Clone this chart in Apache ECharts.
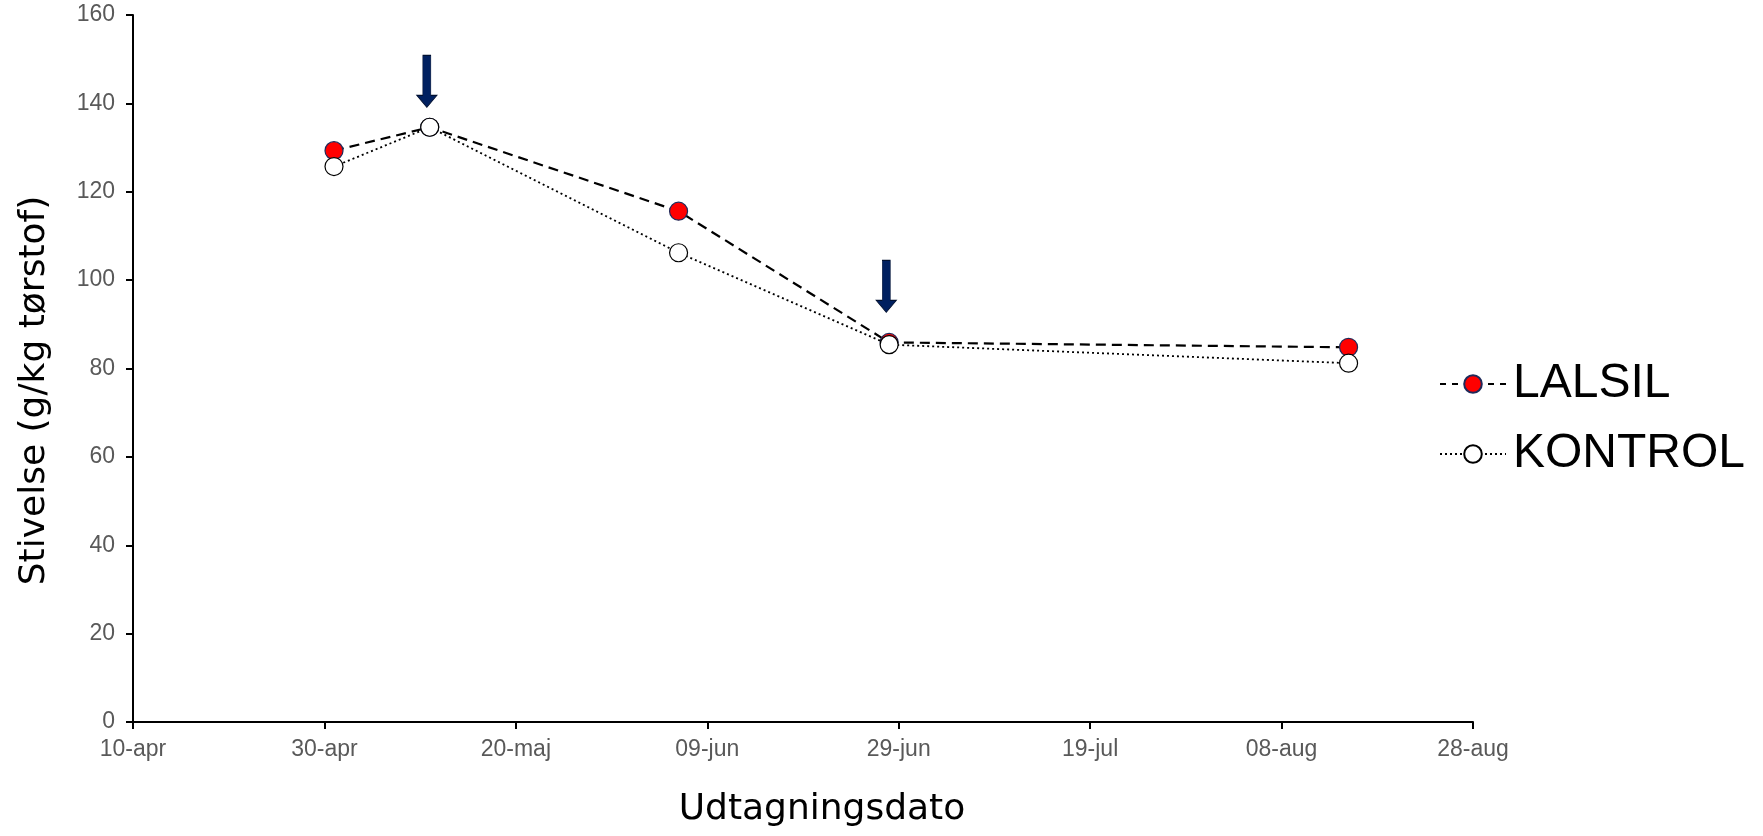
<!DOCTYPE html>
<html>
<head>
<meta charset="utf-8">
<script src="https://cdn.jsdelivr.net/npm/echarts@6/dist/echarts.min.js"></script>
<style>html,body{margin:0;padding:0;background:#fff;}#c{width:1763px;height:836px;}</style>
</head>
<body>
<div id="c"></div>
<script>
// Tick labels for the x axis (every 20 days from 10-apr)
const dateLabels = ['10-apr','30-apr','20-maj','09-jun','29-jun','19-jul','08-aug','28-aug'];
// Sampling dates, as days after 10-apr
const sampleDays = [21, 31, 57, 79, 127];
// Starch (g/kg DM)
const lalsil = [129.3, 134.6, 115.6, 85.9, 84.8];
const kontrol = [125.7, 134.6, 106.2, 85.4, 81.2];
// Arrows (treatment markers): day and centre value
const arrowDays = [30.7, 78.7];
const arrowVals = [145.0, 98.6];

const chart = echarts.init(document.getElementById('c'), null, {renderer: 'canvas'});
const tickFont = {fontFamily: 'Liberation Sans, Arial, sans-serif', fontSize: 23, color: '#595959'};
const arrowPath = 'path://M6,0 L14,0 L14,40 L20,40 L10,52 L0,40 L6,40 Z';

chart.setOption({
  animation: false,
  grid: {left: 133, right: 290, top: 15, bottom: 114, containLabel: false},
  legend: {
    data: [
      {name: 'LALSIL', lineStyle: {type: [6, 6]}},
      {name: 'KONTROL'}
    ],
    orient: 'vertical',
    left: 1434, top: 355,
    itemWidth: 66, itemHeight: 22, itemGap: 22,
    textStyle: {fontFamily: 'Liberation Sans, Arial, sans-serif', fontSize: 48, color: '#000', padding: [0,0,0,2]}
  },
  xAxis: {
    type: 'value', min: 0, max: 140, interval: 20,
    name: 'Udtagningsdato', nameLocation: 'middle', nameGap: 70,
    nameTextStyle: {fontFamily: 'DejaVu Sans, sans-serif', fontSize: 36, color: '#000', padding: [0, 0, 0, 38]},
    axisLine: {lineStyle: {color: '#000', width: 2}},
    axisTick: {show: true, length: 7, lineStyle: {color: '#000', width: 2}},
    axisLabel: Object.assign({margin: 16, formatter: v => dateLabels[Math.round(v / 20)] || ''}, tickFont),
    splitLine: {show: false}
  },
  yAxis: {
    type: 'value', min: 0, max: 160, interval: 20,
    name: 'Stivelse (g/kg tørstof)', nameLocation: 'middle', nameGap: 80, nameRotate: 90,
    nameTextStyle: {fontFamily: 'DejaVu Sans, sans-serif', fontSize: 36, color: '#000', padding: [0, 44, 0, 0]},
    axisLine: {show: true, lineStyle: {color: '#000', width: 2}},
    axisTick: {show: true, length: 7, lineStyle: {color: '#000', width: 2}},
    axisLabel: Object.assign({margin: 18}, tickFont),
    splitLine: {show: false}
  },
  series: [
    {
      name: 'LALSIL', type: 'line',
      data: sampleDays.map((d, i) => [d, lalsil[i]]),
      symbol: 'circle', symbolSize: 18,
      lineStyle: {color: '#000', width: 2.2, type: [10, 6]},
      itemStyle: {color: '#FF0000', borderColor: '#1F2A5A', borderWidth: 1.2},
      z: 3
    },
    {
      name: 'KONTROL', type: 'line',
      data: sampleDays.map((d, i) => [d, kontrol[i]]),
      symbol: 'circle', symbolSize: 18,
      lineStyle: {color: '#000', width: 1.8, type: [2, 3]},
      itemStyle: {color: '#FFFFFF', borderColor: '#000', borderWidth: 1.2},
      z: 4
    },
    {
      name: 'arrows', type: 'scatter', silent: true,
      data: arrowDays.map((d, i) => [d, arrowVals[i]]),
      symbol: arrowPath, symbolSize: [20, 52], symbolKeepAspect: false,
      itemStyle: {color: '#002060', borderColor: '#001030', borderWidth: 0.8, opacity: 1},
      z: 5
    }
  ]
});
</script>
</body>
</html>
